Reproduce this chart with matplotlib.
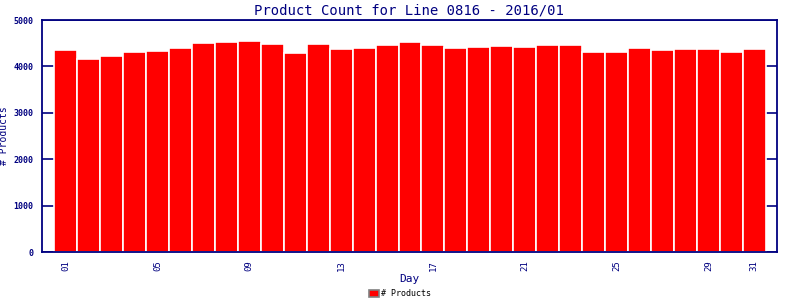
import matplotlib.pyplot as plt
import numpy as np

days = list(range(1, 32))
products = [4354, 4159, 4224, 4311, 4333, 4398, 4506, 4528, 4550, 4485,
            4289, 4485, 4376, 4398, 4463, 4528, 4463, 4398, 4419, 4441,
            4419, 4463, 4463, 4311, 4311, 4398, 4354, 4376, 4376, 4311,
            4376]
tick_days = [1, 5, 9, 13, 17, 21, 25, 29, 31]

navy = '#000080'
plt.rcParams['font.family'] = 'DejaVu Sans Mono'

fig = plt.figure(figsize=(8, 3), dpi=100)
ax = fig.add_axes([0.052, 0.16, 0.919, 0.773])

ax.bar(days, products, width=1.0, color='#ff0000', edgecolor='white',
       linewidth=1.2, label='# Products', zorder=2)
ax.set_xlim(-0.05, 31.98)
ax.set_ylim(0, 5000)
ax.set_yticks(range(0, 5001, 1000))
ax.set_yticklabels([str(v) for v in range(0, 5001, 1000)],
                   fontsize=6, color=navy, fontweight='bold')
ax.set_xticks(tick_days)
ax.set_xticklabels([f'{d:02d}' for d in tick_days], rotation=90,
                   fontsize=6.5, color=navy)
ax.tick_params(length=0, pad=6)
ax.yaxis.grid(True, color=navy, linewidth=1.2, zorder=1)
ax.set_axisbelow(True)
for s in ax.spines.values():
    s.set_color(navy)
    s.set_linewidth(1.3)

ax.set_title('Product Count for Line 0816 - 2016/01', color=navy,
             fontsize=10, pad=4)
ax.set_xlabel('Day', color=navy, fontsize=8, labelpad=2)
ax.set_ylabel('# Products', color=navy, fontsize=7)
ax.yaxis.set_label_coords(-0.045, 0.5)

fig.legend(*ax.get_legend_handles_labels(), loc='lower center',
           bbox_to_anchor=(0.5, -0.02), frameon=False, fontsize=6,
           handlelength=1.2, handleheight=1.0, handletextpad=0.3)
leg = fig.legends[0]
for p in leg.get_patches():
    p.set_edgecolor('gray')

fig.savefig('out.png', dpi=100)
